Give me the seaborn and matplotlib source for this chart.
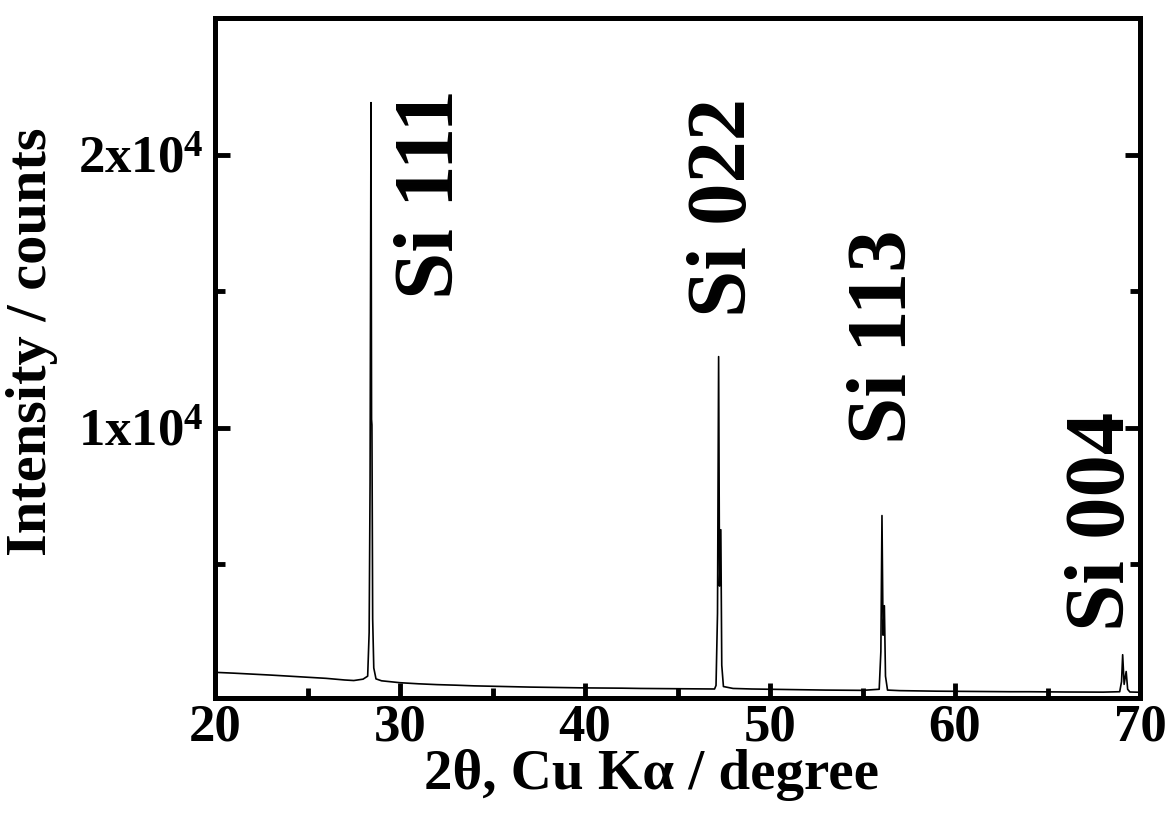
import numpy as np
import pandas as pd
import matplotlib
matplotlib.use("Agg")
import matplotlib.pyplot as plt
import seaborn as sns
from matplotlib.ticker import MultipleLocator, FuncFormatter

# Background points (2theta in degree, counts)
bg_2theta = [20, 21, 22, 23, 24, 25, 26, 27, 27.5, 28, 29, 30, 31, 32, 33, 34, 35,
             36, 37, 38, 39, 40, 41, 42, 43, 44, 45, 46, 47, 48, 49, 50, 51,
             52, 53, 54, 55, 57, 58, 59, 60, 61, 62, 63, 64, 65, 66, 67, 68, 70]
bg_counts = [1040, 1010, 975, 940, 900, 860, 820, 760, 740, 790, 730, 660, 620, 590,
             570, 545, 530, 515, 500, 490, 480, 470, 465, 460, 450, 445, 440,
             435, 430, 450, 430, 420, 410, 400, 390, 385, 380, 370, 360, 350,
             345, 340, 335, 330, 330, 325, 320, 318, 315, 310]

# Peak profiles (Ka1 + Ka2 doublets)
si111_2theta = [28.25, 28.33, 28.38, 28.43, 28.46, 28.48, 28.52, 28.58, 28.70]
si111_counts = [900, 2500, 8000, 21900, 10300, 10100, 3000, 1200, 800]
si022_2theta = [47.08, 47.16, 47.22, 47.27, 47.34, 47.39, 47.48]
si022_counts = [560, 3200, 12600, 4200, 6260, 1300, 520]
si113_2theta = [55.90, 55.99, 56.05, 56.11, 56.18, 56.24, 56.35]
si113_counts = [420, 1800, 6780, 2400, 3480, 900, 390]
si004_2theta = [68.90, 69.00, 69.06, 69.14, 69.25, 69.33, 69.45]
si004_counts = [330, 700, 1685, 600, 1070, 420, 320]

peak_labels = ["Si 111", "Si 022", "Si 113", "Si 004"]
label_x = [31.75, 47.6, 56.25, 68.0]
label_y = [14700, 14050, 9400, 2550]

df = pd.DataFrame({
    "two_theta": bg_2theta + si111_2theta + si022_2theta + si113_2theta + si004_2theta,
    "counts": bg_counts + si111_counts + si022_counts + si113_counts + si004_counts,
}).sort_values("two_theta")

sns.set_theme(style="ticks")
plt.rcParams["font.family"] = ["Liberation Serif", "DejaVu Serif"]
plt.rcParams["font.weight"] = "bold"
plt.rcParams["text.color"] = "black"
plt.rcParams["axes.labelcolor"] = "black"
plt.rcParams["mathtext.fontset"] = "custom"
plt.rcParams["mathtext.bf"] = "Liberation Serif:bold"
plt.rcParams["mathtext.rm"] = "Liberation Serif:bold"

fig = plt.figure(figsize=(11.7, 8.14), dpi=100)
ax = fig.add_axes([0.1838, 0.1425, 0.7906, 0.8354])

sns.lineplot(data=df, x="two_theta", y="counts", ax=ax, color="black",
             linewidth=1.2, estimator=None, sort=True)

ax.set_xlim(20, 70)
ax.set_ylim(100, 25000)

for lab, x, y in zip(peak_labels, label_x, label_y):
    ax.text(x, y, lab, rotation=90, ha="center", va="bottom",
            fontsize=61, fontweight="bold", color="black")

ax.xaxis.set_major_locator(MultipleLocator(10))
ax.xaxis.set_minor_locator(MultipleLocator(5))
ax.yaxis.set_major_locator(MultipleLocator(10000))
ax.yaxis.set_minor_locator(MultipleLocator(5000))
ax.yaxis.set_major_formatter(FuncFormatter(
    lambda v, p: "" if v == 0 else r"$\mathbf{%dx10^{4}}$" % int(v / 10000)))

ax.tick_params(axis="both", which="both", direction="in", width=3.5,
               right=True, top=False, colors="black")
ax.tick_params(axis="both", which="major", length=11, labelsize=38)
ax.tick_params(axis="both", which="minor", length=7)
ax.tick_params(axis="x", which="major", pad=4)
ax.tick_params(axis="y", which="major", pad=8)
for lbl in ax.get_xticklabels():
    lbl.set_fontweight("bold")

for s in ax.spines.values():
    s.set_linewidth(3.6)
    s.set_color("black")

ax.set_xlabel("2θ, Cu Kα / degree", fontsize=41, fontweight="bold")
ax.set_ylabel("Intensity / counts", fontsize=42, fontweight="bold")
ax.xaxis.set_label_coords(0.472, -0.0755)
ax.yaxis.set_label_coords(-0.170, 0.5235)

fig.savefig("out.png", dpi=100)
